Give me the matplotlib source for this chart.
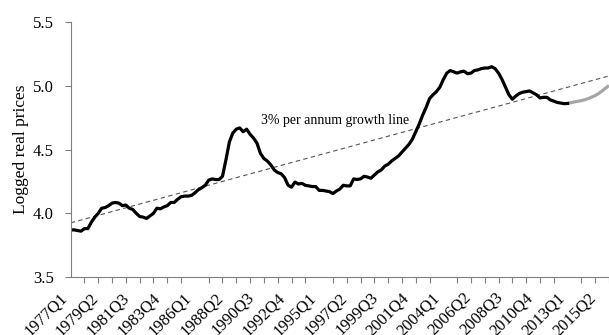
import numpy as np
import matplotlib.pyplot as plt

plt.rcParams['font.family'] = ['Liberation Serif', 'DejaVu Serif']

# logged real house prices, quarterly from 1977Q1 to 2013Q1
real_prices = [
    3.870, 3.870, 3.865, 3.860, 3.880, 3.880, 3.930, 3.970, 4.000, 4.040,
    4.045, 4.060, 4.080, 4.085, 4.080, 4.060, 4.065, 4.040, 4.030, 4.000,
    3.975, 3.970, 3.960, 3.980, 4.000, 4.040, 4.035, 4.050, 4.060, 4.085,
    4.085, 4.110, 4.130, 4.135, 4.135, 4.140, 4.160, 4.185, 4.200, 4.220,
    4.260, 4.270, 4.265, 4.265, 4.290, 4.420, 4.560, 4.630, 4.660, 4.670,
    4.640, 4.660, 4.620, 4.590, 4.550, 4.470, 4.430, 4.410, 4.380, 4.340,
    4.320, 4.310, 4.280, 4.220, 4.205, 4.245, 4.230, 4.235, 4.220, 4.215,
    4.210, 4.210, 4.180, 4.180, 4.175, 4.170, 4.155, 4.175, 4.190, 4.220,
    4.215, 4.215, 4.270, 4.265, 4.270, 4.290, 4.285, 4.275, 4.300, 4.325,
    4.340, 4.370, 4.385, 4.410, 4.430, 4.450, 4.480, 4.510, 4.540, 4.580,
    4.640, 4.700, 4.770, 4.830, 4.900, 4.930, 4.955, 4.990, 5.050, 5.100,
    5.120, 5.110, 5.100, 5.110, 5.115, 5.095, 5.100, 5.120, 5.125, 5.135,
    5.140, 5.140, 5.150, 5.135, 5.100, 5.050, 4.990, 4.930, 4.895, 4.920,
    4.940, 4.950, 4.955, 4.960, 4.945, 4.930, 4.905, 4.910, 4.910, 4.890,
    4.880, 4.870, 4.865, 4.860, 4.862,
]

# projected path, 2013Q1 to 2016Q1
projection = [
    4.862, 4.868, 4.874, 4.879, 4.884, 4.891, 4.900, 4.912, 4.924, 4.940,
    4.960, 4.982, 5.003,
]

tick_labels = [
    "1977Q1", "1979Q2", "1981Q3", "1983Q4", "1986Q1", "1988Q2",
    "1990Q3", "1992Q4", "1995Q1", "1997Q2", "1999Q3", "2001Q4",
    "2004Q1", "2006Q2", "2008Q3", "2010Q4", "2013Q1", "2015Q2",
]

growth_rate = 0.03      # per annum
trend_start = 3.925

n_hist = len(real_prices)
n_total = n_hist - 1 + len(projection)

fig = plt.figure(figsize=(6.09, 3.35), dpi=100)
ax = fig.add_axes([0.116, 0.173, 0.884, 0.761])

x_hist = np.arange(n_hist)
x_proj = np.arange(n_hist - 1, n_total)
x_all = np.arange(n_total)

trend = trend_start + np.log(1 + growth_rate) / 4 * x_all
ax.plot(x_all, trend, color='#555555', lw=0.8, ls=(0, (4, 3)))

ax.plot(x_proj, projection, color='#a6a6a6', lw=2.3, solid_capstyle='butt')
ax.plot(x_hist, real_prices, color='black', lw=2.3, solid_joinstyle='round')

ax.text(76.5, 4.73, "3% per annum growth line", fontsize=10,
        ha='center', va='center')

ax.set_xlim(0, n_total - 1)
ax.set_ylim(3.5, 5.5)
ax.set_yticks([3.5, 4.0, 4.5, 5.0, 5.5])
ax.set_yticklabels(["3.5", "4.0", "4.5", "5.0", "5.5"])

ax.set_xticks(np.arange(0, n_total, 9))
ax.set_xticklabels(tick_labels, rotation=45, ha='right')
ax.set_xticks(np.arange(0, n_total, 4), minor=True)

ax.tick_params(axis='x', which='major', length=0, pad=9, labelsize=12)
ax.tick_params(axis='x', which='minor', length=4, color='#808080', width=0.8)
ax.tick_params(axis='y', length=4, color='#808080', width=0.8, pad=8,
               labelsize=12)

for side in ['top', 'right']:
    ax.spines[side].set_visible(False)
for side in ['left', 'bottom']:
    ax.spines[side].set_color('#808080')
    ax.spines[side].set_linewidth(0.8)

ax.set_ylabel("Logged real prices", fontsize=12.5)
ax.yaxis.set_label_coords(-0.078, 0.5)

fig.savefig("out.png", dpi=100)
